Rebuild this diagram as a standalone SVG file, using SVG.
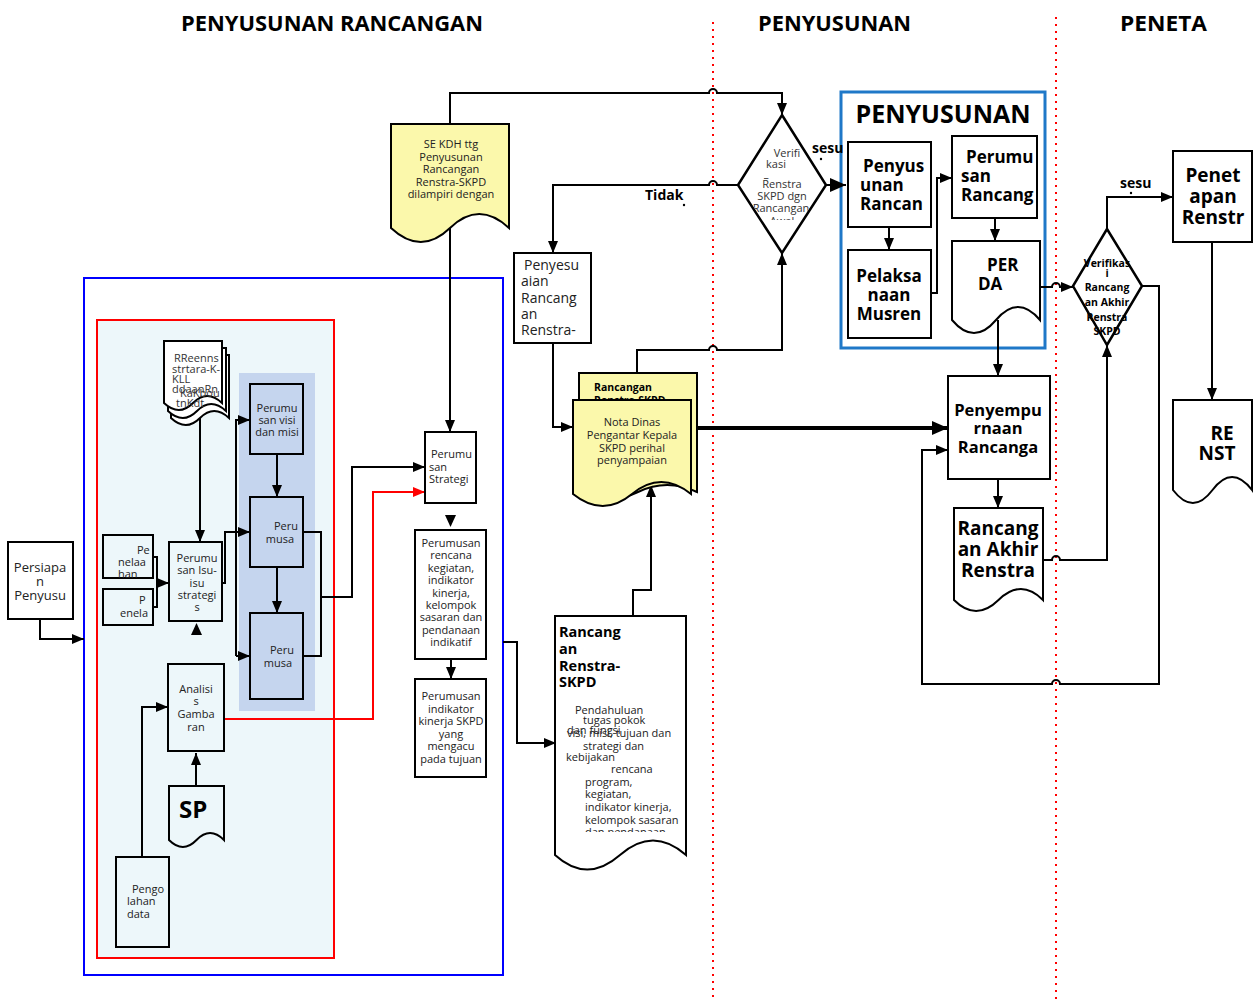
<svg xmlns="http://www.w3.org/2000/svg" width="1257" height="1001" viewBox="0 0 1257 1001">
<style>
text{font-family:"Open Sans","Noto Sans","DejaVu Sans",sans-serif;fill:#222}
.s11{font-size:11px}
.s13{font-size:13px}
.s14{font-size:14px}
.c{text-anchor:middle}
.bd{font-weight:bold;fill:#000}
.h{font-size:22px;font-weight:bold;fill:#000}
.box{fill:#fff;stroke:#000;stroke-width:2}
.boxc{fill:#edf7fa;stroke:#000;stroke-width:2}
.boxp{fill:#c5d5ee;stroke:#000;stroke-width:2}
.doc{fill:#fff;stroke:#000;stroke-width:2}
.ydoc{fill:#fbf8ab;stroke:#000;stroke-width:2}
.ln{fill:none;stroke:#000;stroke-width:2}
.thk{fill:none;stroke:#000;stroke-width:4}
.red{fill:none;stroke:#f00;stroke-width:2}
.dot{fill:none;stroke:#f00;stroke-width:2;stroke-dasharray:2 5}
</style>
<defs>
<marker id="a" viewBox="0 0 12 10" refX="12" refY="5" markerWidth="12" markerHeight="10" markerUnits="userSpaceOnUse" orient="auto"><path d="M0,0 L12,5 L0,10 z" fill="#000"/></marker>
<marker id="at" viewBox="0 0 16 14" refX="16" refY="7" markerWidth="16" markerHeight="14" markerUnits="userSpaceOnUse" orient="auto"><path d="M0,0 L16,7 L0,14 z" fill="#000"/></marker>
<marker id="ar" viewBox="0 0 12 10" refX="12" refY="5" markerWidth="12" markerHeight="10" markerUnits="userSpaceOnUse" orient="auto"><path d="M0,0 L12,5 L0,10 z" fill="#f00"/></marker>
<clipPath id="cd1"><polygon points="782,117 824,185 782,251 740,185"/></clipPath>
<clipPath id="cd1a"><rect x="740" y="170" width="84" height="9"/></clipPath>
<clipPath id="cd1b"><rect x="740" y="214" width="84" height="6"/></clipPath>
<clipPath id="cmd"><path d="M165,342 H221 V402 Q178,418 165,402 Z"/></clipPath>
<clipPath id="cpe1"><rect x="104" y="536" width="48" height="42"/></clipPath>
<clipPath id="crr"><rect x="556" y="617" width="129" height="215"/></clipPath>
</defs>

<!-- headers and swimlane separators -->
<g id="headers">
<text class="h" x="181" y="31" textLength="302" lengthAdjust="spacingAndGlyphs">PENYUSUNAN RANCANGAN</text>
<text class="h" x="758" y="31" textLength="153" lengthAdjust="spacingAndGlyphs">PENYUSUNAN</text>
<text class="h" x="1120" y="31" textLength="87" lengthAdjust="spacingAndGlyphs">PENETA</text>
</g>
<g id="lanes">
<line class="dot" x1="713" y1="22" x2="713" y2="1001"/>
<line class="dot" x1="1056" y1="17" x2="1056" y2="1001"/>
</g>

<!-- containers -->
<g id="container-blue"><rect x="84" y="278" width="419" height="697" fill="none" stroke="#00f" stroke-width="2"/></g>
<g id="container-red"><rect x="97" y="320" width="237" height="638" fill="#edf7fa" stroke="#f00" stroke-width="2"/></g>
<g id="panel"><rect x="239" y="373" width="76" height="338" fill="#c5d5ee"/></g>
<g id="container-penyusunan">
<rect x="841" y="92" width="204" height="256" fill="none" stroke="#1f78c8" stroke-width="3"/>
<text x="943" y="123" class="c bd" style="font-size:25px">PENYUSUNAN</text>
</g>

<!-- connectors -->
<g id="connectors">
<path class="ln" d="M450,124 V93 H709 A4,4 0 0 1 717,93 H782 V115" marker-end="url(#a)"/>
<path class="ln" d="M738,185 H717 A4,4 0 0 0 709,185 H553 V253" marker-end="url(#a)"/>
<path class="ln" d="M826,185 H846" stroke-width="3" marker-end="url(#at)"/>
<path class="ln" d="M637,373 V350 H709 A4,4 0 0 1 717,350 H782 V253" marker-end="url(#a)"/>
<path class="ln" d="M553,343 V427 H573" marker-end="url(#a)"/>
<path class="thk" d="M691,428 H948" marker-end="url(#at)"/>
<path class="ln" d="M633,616 V590 H651 V485" marker-end="url(#a)"/>
<path class="ln" d="M503,642 H517 V743 H556" marker-end="url(#a)"/>
<path class="ln" d="M450,228 V432" marker-end="url(#a)"/>
<path class="ln" d="M889,227 V250" marker-end="url(#a)"/>
<path class="ln" d="M931,293 H937 V178 H952" marker-end="url(#a)"/>
<path class="ln" d="M995,218 V241" marker-end="url(#a)"/>
<path class="ln" d="M1040,287 H1052 A4,4 0 0 1 1060,287 H1073" marker-end="url(#a)"/>
<path class="ln" d="M998,320 V376" marker-end="url(#a)"/>
<path class="ln" d="M998,479 V508" marker-end="url(#a)"/>
<path class="ln" d="M1043,560 H1052 A4,4 0 0 1 1060,560 H1107 V345" marker-end="url(#a)"/>
<path class="ln" d="M1142,286 H1159 V684 H1060 A4,4 0 0 0 1052,684 H922 V450 H948" marker-end="url(#a)"/>
<path class="ln" d="M1107,229 V197 H1173" marker-end="url(#a)"/>
<path class="ln" d="M1212,242 V400" marker-end="url(#a)"/>
<path class="ln" d="M200,404 V542" marker-end="url(#a)"/>
<path class="ln" d="M153,557 H157 V607 H153"/>
<path class="ln" d="M157,583 H169" marker-end="url(#a)"/>
<path class="ln" d="M222,583 H225 V532 H250" marker-end="url(#a)"/>
<path class="ln" d="M236,656 V420 H250" marker-end="url(#a)"/>
<path class="ln" d="M236,656 H250" marker-end="url(#a)"/>
<path class="ln" d="M277,454 V497" marker-end="url(#a)"/>
<path class="ln" d="M277,567 V613" marker-end="url(#a)"/>
<path class="ln" d="M303,532 H321 V656 H303"/>
<path class="ln" d="M321,597 H352 V467 H425" marker-end="url(#a)"/>
<path class="red" d="M224,719 H373 V492 H425" marker-end="url(#ar)"/>
<path class="ln" d="M196,786 V753" marker-end="url(#a)"/>
<path class="ln" d="M142,857 V707 H168" marker-end="url(#a)"/>
<path class="ln" d="M40,619 V639 H84" marker-end="url(#a)"/>
<path class="ln" d="M451,659 V679" marker-end="url(#a)"/>
<polygon points="191,635 196.5,623 202,635" fill="#000"/>
<polygon points="445,515 456,515 450.5,527" fill="#000"/>
</g>

<!-- nodes -->
<g id="se-kdh">
<path class="ydoc" d="M391,124 H509 V228 Q479,200 450,228 T391,228 Z"/>
<text class="s11 c" x="451" y="148">SE KDH ttg</text>
<text class="s11 c" x="451" y="161">Penyusunan</text>
<text class="s11 c" x="451" y="173">Rancangan</text>
<text class="s11 c" x="451" y="186">Renstra-SKPD</text>
<text class="s11 c" x="451" y="198">dilampiri dengan</text>
</g>

<g id="verifikasi-1">
<polygon points="782,115 826,185 782,253 738,185" fill="#fff" stroke="#000" stroke-width="2.5"/>
<g clip-path="url(#cd1)" style="font-size:11px">
<text class="c" x="787" y="157" style="fill:#333">Verifi</text>
<text class="c" x="776" y="168" style="fill:#333">kasi</text>
<text class="c" x="782" y="188" style="fill:#333">Renstra</text>
<text class="c" x="782" y="200" style="fill:#333">SKPD dgn</text>
<text class="c" x="781" y="212" style="fill:#333">Rancangan</text>
</g>
<g clip-path="url(#cd1a)" style="font-size:11px"><text class="c" x="782" y="186" style="fill:#333">Rancan</text></g>
<g clip-path="url(#cd1b)" style="font-size:11px"><text class="c" x="782" y="225" style="fill:#333">Awal</text></g>
<text class="s14 bd" x="812" y="153">sesu</text>
<circle cx="821" cy="159" r="1.2" fill="#000"/>
<text class="s14 bd" x="645" y="200">Tidak</text>
<circle cx="684" cy="205" r="1.2" fill="#000"/>
</g>

<g id="penyesuaian">
<rect class="box" x="514" y="253" width="77" height="90"/>
<text class="s14" x="524" y="270">Penyesu</text>
<text class="s14" x="521" y="286">aian</text>
<text class="s14" x="521" y="303">Rancang</text>
<text class="s14" x="521" y="319">an</text>
<text class="s14" x="521" y="335">Renstra-</text>
</g>

<g id="rancangan-nota">
<path class="ydoc" d="M579,373 H697 V492 Q667,478 638,492 T579,492 Z"/>
<text class="bd" x="594" y="391" style="font-size:10.5px">Rancangan</text>
<text class="bd" x="594" y="404" style="font-size:10.5px">Renstra-SKPD</text>
<path class="ydoc" d="M573,400 H691 V494 Q661,470 632,494 T573,494 Z"/>
<text class="s11 c" x="632" y="426">Nota Dinas</text>
<text class="s11 c" x="632" y="439">Pengantar Kepala</text>
<text class="s11 c" x="632" y="452">SKPD perihal</text>
<text class="s11 c" x="632" y="464">penyampaian</text>
</g>

<g id="rancangan-renstra-skpd">
<path class="doc" d="M555,616 H686 V855 Q653,826 620,855 T555,855 Z"/>
<text class="bd" x="559" y="637" style="font-size:14.5px">Rancang</text>
<text class="bd" x="559" y="654" style="font-size:14.5px">an</text>
<text class="bd" x="559" y="671" style="font-size:14.5px">Renstra-</text>
<text class="bd" x="559" y="687" style="font-size:14.5px">SKPD</text>
<g clip-path="url(#crr)" style="font-size:11px">
<text x="575" y="714">Pendahuluan</text>
<text x="583" y="724">tugas pokok</text>
<text x="567" y="734">dan fungsi</text>
<text x="567" y="737">visi, misi, tujuan dan</text>
<text x="583" y="750">strategi dan</text>
<text x="566" y="761">kebijakan</text>
<text x="611" y="773">rencana</text>
<text x="585" y="786">program,</text>
<text x="585" y="798">kegiatan,</text>
<text x="585" y="811">indikator kinerja,</text>
<text x="585" y="824">kelompok sasaran</text>
<text x="585" y="836">dan pendanaan</text>
</g>
</g>

<g id="penyusunan-rancangan">
<rect class="box" x="848" y="142" width="83" height="85"/>
<text class="bd" x="863" y="172" style="font-size:17px">Penyus</text>
<text class="bd" x="860" y="191" style="font-size:17px">unan</text>
<text class="bd" x="860" y="210" style="font-size:17px">Rancan</text>
</g>
<g id="pelaksanaan-musren">
<rect class="box" x="848" y="250" width="83" height="88"/>
<text class="bd c" x="889" y="282" style="font-size:17px">Pelaksa</text>
<text class="bd c" x="889" y="301" style="font-size:17px">naan</text>
<text class="bd c" x="889" y="320" style="font-size:17px">Musren</text>
</g>
<g id="perumusan-rancangan">
<rect class="box" x="952" y="136" width="85" height="82"/>
<text class="bd" x="966" y="163" style="font-size:17px">Perumu</text>
<text class="bd" x="961" y="182" style="font-size:17px">san</text>
<text class="bd" x="961" y="201" style="font-size:17px">Rancang</text>
</g>
<g id="perda">
<path class="doc" d="M952,241 H1040 V320 Q1018,294 996,320 T952,320 Z"/>
<text class="bd" x="987" y="271" style="font-size:17px">PER</text>
<text class="bd" x="978" y="290" style="font-size:17px">DA</text>
</g>

<g id="penyempurnaan">
<rect class="box" x="948" y="376" width="102" height="103"/>
<text class="bd c" x="998" y="416" style="font-size:16.5px">Penyempu</text>
<text class="bd c" x="998" y="434" style="font-size:16.5px">rnaan</text>
<text class="bd c" x="998" y="453" style="font-size:16.5px">Rancanga</text>
</g>
<g id="rancangan-akhir">
<path class="doc" d="M954,508 H1043 V600 Q1021,578 998.5,600 T954,600 Z"/>
<text class="bd c" x="998" y="535" style="font-size:19px">Rancang</text>
<text class="bd c" x="998" y="556" style="font-size:19px">an Akhir</text>
<text class="bd c" x="998" y="577" style="font-size:19px">Renstra</text>
</g>

<g id="verifikasi-2">
<polygon points="1107,229 1142,286 1107,345 1073,286" fill="#fff" stroke="#000" stroke-width="2.5"/>
<text class="bd c" x="1107" y="267" style="font-size:10.5px">Verifikas</text>
<text class="bd c" x="1107" y="277" style="font-size:10.5px">i</text>
<text class="bd c" x="1107" y="291" style="font-size:10.5px">Rancang</text>
<text class="bd c" x="1107" y="306" style="font-size:10.5px">an Akhir</text>
<text class="bd c" x="1107" y="321" style="font-size:10.5px">Renstra</text>
<text class="bd c" x="1107" y="335" style="font-size:10.5px">SKPD</text>
<text class="s14 bd" x="1120" y="188">sesu</text>
<circle cx="1131" cy="193" r="1.2" fill="#000"/>
</g>
<g id="penetapan">
<rect class="box" x="1173" y="151" width="79" height="91"/>
<text class="bd c" x="1213" y="182" style="font-size:19px">Penet</text>
<text class="bd c" x="1213" y="203" style="font-size:19px">apan</text>
<text class="bd c" x="1213" y="224" style="font-size:19px">Renstr</text>
</g>
<g id="renstra-final">
<path class="doc" d="M1173,400 H1252 V490 Q1232,464 1212.5,490 T1173,490 Z"/>
<text class="bd c" x="1222" y="440" style="font-size:19px">RE</text>
<text class="bd c" x="1217" y="460" style="font-size:19px">NST</text>
</g>

<g id="persiapan">
<rect class="box" x="8" y="542" width="65" height="77"/>
<text class="s13 c" x="40" y="572">Persiapa</text>
<text class="s13 c" x="40" y="586">n</text>
<text class="s13 c" x="40" y="600">Penyusu</text>
</g>

<g id="dokumen-renstra-kl">
<path class="doc" d="M171,355 H229 V418 Q214,404 200,418 T171,418 Z"/>
<path class="doc" d="M168,348 H226 V411 Q211,397 197,411 T168,411 Z"/>
<path class="doc" d="M164,341 H222 V403 Q207,389 193,403 T164,403 Z"/>
<g clip-path="url(#cmd)" style="font-size:11px">
<text x="174" y="362" style="fill:#333">RReenns</text>
<text x="172" y="373" style="fill:#333">strtara-K-</text>
<text x="172" y="383" style="fill:#333">KLL</text>
<text x="172" y="393" style="fill:#333">ddaanRn</text>
<text x="180" y="397" style="fill:#333">KaKbou</text>
<text x="176" y="407" style="fill:#333">tnKdt</text>
</g>
</g>

<g id="penelaahan-1">
<rect class="boxc" x="103" y="535" width="50" height="43"/>
<g clip-path="url(#cpe1)" class="s11">
<text x="137" y="554">Pe</text>
<text x="118" y="566">nelaa</text>
<text x="118" y="578">han</text>
</g>
</g>
<g id="penelaahan-2">
<rect class="boxc" x="103" y="589" width="50" height="36"/>
<text class="s11" x="139" y="604">P</text>
<text class="s11" x="120" y="617">enela</text>
</g>
<g id="perumusan-isu">
<rect class="boxc" x="169" y="542" width="53" height="79"/>
<text class="s11 c" x="197" y="562">Perumu</text>
<text class="s11 c" x="197" y="574">san Isu-</text>
<text class="s11 c" x="197" y="587">isu</text>
<text class="s11 c" x="197" y="599">strategi</text>
<text class="s11 c" x="197" y="611">s</text>
</g>
<g id="perumusan-visi-misi">
<rect class="boxp" x="250" y="384" width="53" height="70"/>
<text class="s11 c" x="277" y="412">Perumu</text>
<text class="s11 c" x="277" y="424">san visi</text>
<text class="s11 c" x="277" y="436">dan misi</text>
</g>
<g id="perumusan-2">
<rect class="boxp" x="250" y="497" width="53" height="70"/>
<text class="s11 c" x="286" y="530">Peru</text>
<text class="s11 c" x="280" y="543">musa</text>
</g>
<g id="perumusan-3">
<rect class="boxp" x="250" y="613" width="53" height="86"/>
<text class="s11 c" x="282" y="654">Peru</text>
<text class="s11 c" x="278" y="667">musa</text>
</g>
<g id="analisis">
<rect class="boxc" x="168" y="664" width="56" height="87"/>
<text class="s11 c" x="196" y="693">Analisi</text>
<text class="s11 c" x="196" y="705">s</text>
<text class="s11 c" x="196" y="718">Gamba</text>
<text class="s11 c" x="196" y="731">ran</text>
</g>
<g id="sp">
<path class="doc" d="M169,786 H224 V840 Q210,826 196.5,840 T169,840 Z" style="fill:#edf7fa"/>
<text class="bd" x="179" y="818" style="font-size:24px">SP</text>
</g>
<g id="pengolahan-data">
<rect class="boxc" x="116" y="857" width="53" height="90"/>
<text class="s11" x="132" y="893">Pengo</text>
<text class="s11" x="127" y="905">lahan</text>
<text class="s11" x="127" y="918">data</text>
</g>

<g id="perumusan-strategi">
<rect class="box" x="425" y="432" width="51" height="71"/>
<text class="s11" x="431" y="458">Perumu</text>
<text class="s11" x="429" y="471">san</text>
<text class="s11" x="429" y="483">Strategi</text>
</g>
<g id="perumusan-rencana">
<rect class="box" x="415" y="530" width="71" height="129"/>
<text class="s11 c" x="451" y="547">Perumusan</text>
<text class="s11 c" x="451" y="559.4">rencana</text>
<text class="s11 c" x="451" y="571.8">kegiatan,</text>
<text class="s11 c" x="451" y="584.2">indikator</text>
<text class="s11 c" x="451" y="596.6">kinerja,</text>
<text class="s11 c" x="451" y="609">kelompok</text>
<text class="s11 c" x="451" y="621.4">sasaran dan</text>
<text class="s11 c" x="451" y="633.8">pendanaan</text>
<text class="s11 c" x="451" y="646.2">indikatif</text>
</g>
<g id="perumusan-indikator">
<rect class="box" x="415" y="679" width="71" height="98"/>
<text class="s11 c" x="451" y="700">Perumusan</text>
<text class="s11 c" x="451" y="712.6">indikator</text>
<text class="s11 c" x="451" y="725.2">kinerja SKPD</text>
<text class="s11 c" x="451" y="737.8">yang</text>
<text class="s11 c" x="451" y="750.4">mengacu</text>
<text class="s11 c" x="451" y="763">pada tujuan</text>
</g>
</svg>
